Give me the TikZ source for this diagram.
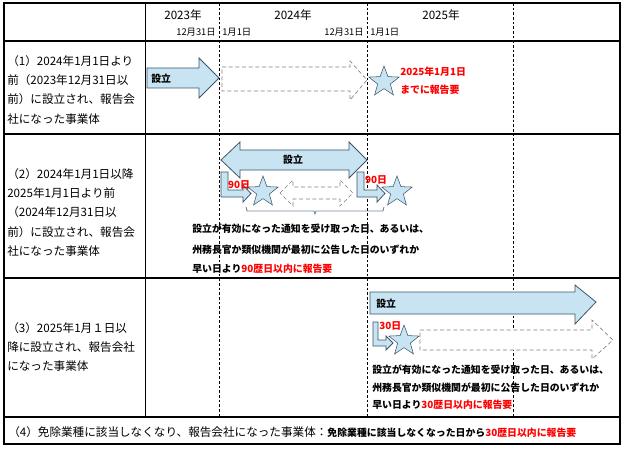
\documentclass[tikz,border=0pt]{standalone}
\usepackage{fontspec}
\setmainfont{Noto Sans CJK JP}
\usetikzlibrary{shapes.geometric}
\definecolor{lb}{RGB}{200,228,242}
\definecolor{bd}{RGB}{60,85,105}
\definecolor{rd}{RGB}{255,0,0}
\tikzset{
 blue/.style={fill=lb,draw=bd,line width=0.6pt},
 hollow/.style={fill=white,draw=gray,densely dashed,line width=0.5pt},
 stardot/.style={star,star points=5,star point ratio=2.4,fill=lb,draw=bd,minimum size=24,inner sep=0pt},
 lbl/.style={font=\fontsize{8.7}{9}\selectfont,inner sep=0pt},
 bl/.style={font=\bfseries\fontsize{7.4}{8}\selectfont,inner sep=0pt},
 grid/.style={dash pattern=on 2pt off 1.5pt,line width=0.5pt}
}
\begin{document}
\begin{tikzpicture}[x=0.75pt,y=-0.75pt]
\useasboundingbox (0,0) rectangle (624,449);
% table
\draw[line width=1.5pt] (4,3) rectangle (620,444);
\draw[line width=1.5pt] (4,41) -- (620,41);
\draw[line width=1pt] (4,134) -- (620,134);
\draw[line width=1pt] (4,278) -- (620,278);
\draw[line width=1.5pt] (4,417) -- (620,417);
\draw[line width=0.6pt] (145,3) -- (145,417);
\foreach \x in {219,367,513} \draw[grid] (\x,3) -- (\x,417);
% header
\node[lbl] (y23) at (183,15) {2023年};
\node[lbl] (y24) at (293,15) {2024年};
\node[lbl] (y25) at (441,15) {2025年};
\node[lbl,anchor=east,font=\fontsize{7}{8}\selectfont] (d1) at (216,32) {12月31日};
\node[lbl,anchor=west,font=\fontsize{7}{8}\selectfont] (d2) at (222,32) {1月1日};
\node[lbl,anchor=east,font=\fontsize{7}{8}\selectfont] (d3) at (364,32) {12月31日};
\node[lbl,anchor=west,font=\fontsize{7}{8}\selectfont] (d4) at (370,32) {1月1日};
% row labels
\node[lbl,anchor=north west,align=left,font=\fontsize{8.7}{14.5}\selectfont] (r1) at (7,55) {（1）2024年1月1日より\\前（2023年12月31日以\\前）に設立され、報告会\\社になった事業体};
\node[lbl,anchor=north west,align=left,font=\fontsize{8.7}{14.5}\selectfont] (r2) at (7,168) {（2）2024年1月1日以降\\2025年1月1日より前\\（2024年12月31日以\\前）に設立され、報告会\\社になった事業体};
\node[lbl,anchor=north west,align=left,font=\fontsize{8.7}{14.5}\selectfont] (r3) at (7,322) {（3）2025年1月１日以\\降に設立され、報告会社\\になった事業体};
\node[lbl,anchor=west] (r4) at (8,432) {（4）免除業種に該当しなくなり、報告会社になった事業体：\bfseries\fontsize{7.4}{8}\selectfont 免除業種に該当しなくなった日から\textcolor{rd}{30歴日以内に報告要}};
% row 1
\draw[blue] (147,68) -- (199,68) -- (199,58) -- (219,78) -- (199,98) -- (199,88) -- (147,88) -- cycle;
\node[bl,anchor=west] (s1) at (151,79) {設立};
\draw[hollow] (222,67) -- (350,67) -- (350,61) -- (367,80) -- (350,100) -- (350,91) -- (222,91) -- cycle;
\node[stardot] (st1) at (384,82) {};
\node[bl,anchor=west,text=rd] (t1a) at (400,72) {2025年1月1日};
\node[bl,anchor=west,text=rd] (t1b) at (400,90) {までに報告要};
% row 2
\draw[blue] (221,160) -- (240,142) -- (240,150) -- (349,150) -- (349,142) -- (367,160) -- (349,178) -- (349,170) -- (240,170) -- (240,178) -- cycle;
\node[bl] (s2) at (293,160) {設立};
\draw[blue] (221,172) -- (228,172) -- (228,190) -- (243,190) -- (243,185) -- (251,193.5) -- (243,202) -- (243,197) -- (221,197) -- cycle;
\draw[blue] (357,172) -- (364,172) -- (364,190) -- (377,190) -- (377,185) -- (385,193.5) -- (377,202) -- (377,197) -- (357,197) -- cycle;
\node[bl,text=rd] (n90a) at (239,185) {90日};
\node[bl,text=rd] (n90b) at (376,180) {90日};
\node[stardot] (st2) at (263,192) {};
\node[stardot] (st3) at (397,192) {};
\draw[hollow] (280,193) -- (293,180) -- (293,187) -- (340,187) -- (340,180) -- (353,193) -- (340,206) -- (340,199) -- (293,199) -- (293,206) -- cycle;
\draw[bd!70,line width=0.7pt] (246,207) -- (247,211) -- (314,211) -- (315,214) -- (316,211) -- (383,211) -- (384,207);
\node[bl,anchor=west] (t2a) at (192,229) {設立が有効になった通知を受け取った日、あるいは、};
\node[bl,anchor=west] (t2b) at (192,250) {州務長官か類似機関が最初に公告した日のいずれか};
\node[bl,anchor=west] (t2c) at (192,269) {早い日より\textcolor{rd}{90歴日以内に報告要}};
% row 3
\draw[blue] (370,292) -- (575,292) -- (575,285) -- (596,302) -- (575,324) -- (575,314) -- (370,314) -- cycle;
\node[bl,anchor=west] (s3) at (376,304) {設立};
\draw[blue] (373,322) -- (378,322) -- (378,340) -- (386,340) -- (386,336) -- (393,343) -- (386,350) -- (386,346) -- (373,346) -- cycle;
\node[bl,text=rd,anchor=west] (n30) at (379,326) {30日};
\node[stardot] (st4) at (404,341) {};
\draw[hollow] (420,330) -- (592,330) -- (592,320) -- (613,340) -- (592,359) -- (592,350) -- (420,350) -- cycle;
\node[bl,anchor=west] (t3a) at (372,370) {設立が有効になった通知を受け取った日、あるいは、};
\node[bl,anchor=west] (t3b) at (372,388) {州務長官か類似機関が最初に公告した日のいずれか};
\node[bl,anchor=west] (t3c) at (372,405) {早い日より\textcolor{rd}{30歴日以内に報告要}};
\end{tikzpicture}
\end{document}
